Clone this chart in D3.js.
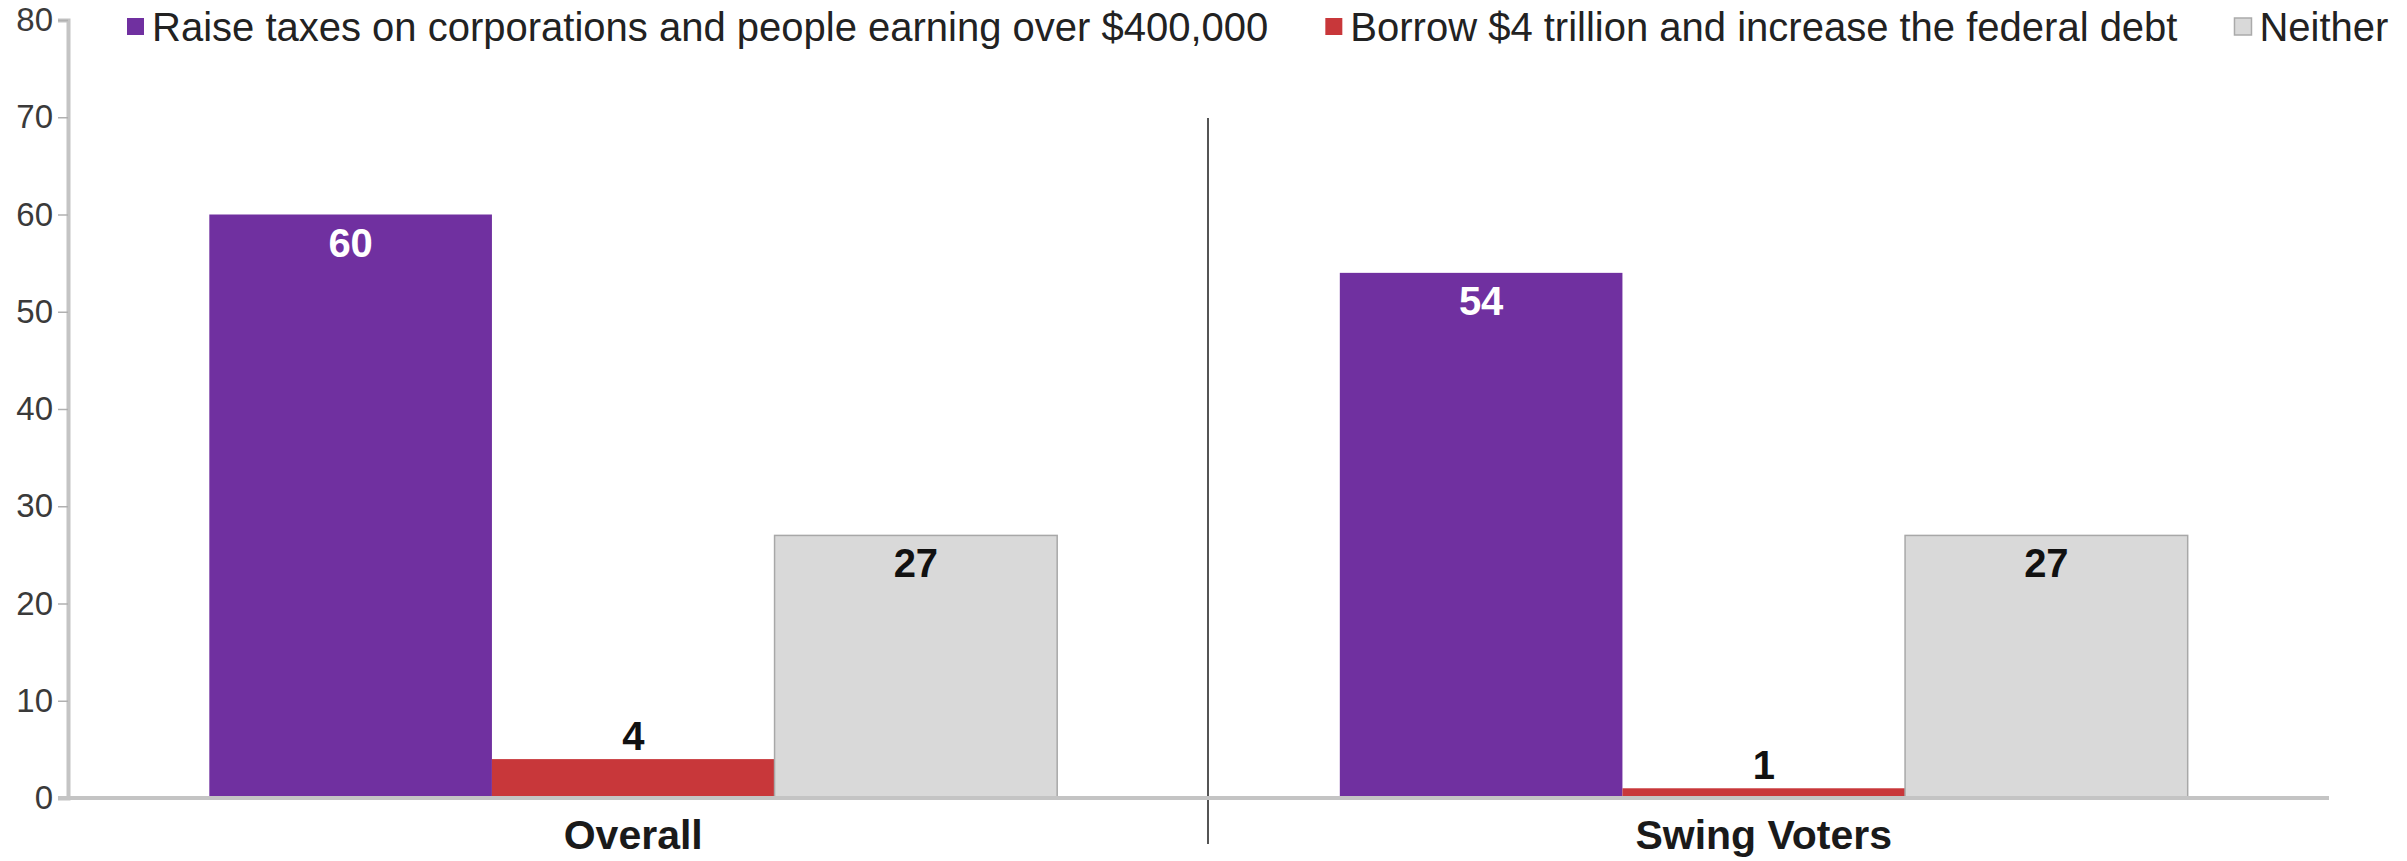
<!DOCTYPE html>
<html>
<head>
<meta charset="utf-8">
<script src="https://cdn.jsdelivr.net/npm/d3@7"></script>
<style>
  html, body { margin: 0; padding: 0; background: #fff; }
  svg { display: block; font-family: "Liberation Sans", Arial, sans-serif; }
</style>
</head>
<body>
<svg id="chart" width="2407" height="861"></svg>
<script>
// Poll groups and answer options
const groups = ["Overall", "Swing Voters"];
const series = [
  "Raise taxes on corporations and people earning over $400,000",
  "Borrow $4 trillion and increase the federal debt",
  "Neither"
];
// Percent choosing each option, per group (same order as series)
const overallValues = [60, 4, 27];
const swingValues = [54, 1, 27];
const yTicks = [0, 10, 20, 30, 40, 50, 60, 70, 80];

const seriesColors = ["#7030A0", "#C8373A", "#D9D9D9"];
const labelColors = ["#ffffff", "#111111", "#111111"];

const rows = [
  { group: groups[0], values: overallValues },
  { group: groups[1], values: swingValues }
];

const svg = d3.select("#chart");
const plotLeft = 68, plotRight = 2329, plotTop = 20, plotBottom = 798;

const x = d3.scaleBand().domain(groups).range([plotLeft, plotRight])
  .paddingInner(0.25).paddingOuter(0.125);
const xs = d3.scaleBand().domain(series).range([0, x.bandwidth()]).padding(0);
const y = d3.scaleLinear().domain([0, 80]).range([plotBottom, plotTop]);

// Y axis
const yAxis = svg.append("g")
  .attr("transform", `translate(${plotLeft},0)`)
  .call(d3.axisLeft(y).tickValues(yTicks).tickSize(10).tickPadding(5));
yAxis.select(".domain").attr("stroke", "#c4c4c4").attr("stroke-width", 4);
yAxis.selectAll(".tick line").attr("stroke", "#b0b0b0").attr("stroke-width", 1.5);
yAxis.selectAll(".tick text")
  .attr("fill", "#3a3a3a")
  .style("font-size", "33px")
  .style("font-family", "'Liberation Sans', Arial, sans-serif");

// Separator between groups
const sepX = plotLeft + (plotRight - plotLeft) * 0.5042;
svg.append("line")
  .attr("x1", sepX).attr("x2", sepX)
  .attr("y1", 118).attr("y2", 844)
  .attr("stroke", "#555").attr("stroke-width", 2);

// Bars
const groupSel = svg.selectAll("g.group").data(rows).join("g")
  .attr("class", "group")
  .attr("transform", d => `translate(${x(d.group)},0)`);

groupSel.selectAll("rect").data(d => d.values.map((v, i) => ({ s: series[i], v, i })))
  .join("rect")
  .attr("x", d => xs(d.s))
  .attr("y", d => y(d.v))
  .attr("width", xs.bandwidth())
  .attr("height", d => y(0) - y(d.v))
  .attr("fill", d => seriesColors[d.i])
  .attr("stroke", d => d.i === 2 ? "#a8a8a8" : "none")
  .attr("stroke-width", 1.5);

// Value labels: inside near the top for tall bars, above for short ones
groupSel.selectAll("text.val").data(d => d.values.map((v, i) => ({ s: series[i], v, i })))
  .join("text")
  .attr("class", "val")
  .attr("x", d => xs(d.s) + xs.bandwidth() / 2)
  .attr("y", d => d.v > 10 ? y(d.v) + 42 : y(d.v) - 9)
  .attr("text-anchor", "middle")
  .attr("fill", d => d.v > 10 ? labelColors[d.i] : "#111")
  .style("font-size", "40px")
  .style("font-weight", "bold")
  .text(d => d.v);

// X baseline
svg.append("line")
  .attr("x1", plotLeft - 10).attr("x2", plotRight)
  .attr("y1", plotBottom).attr("y2", plotBottom)
  .attr("stroke", "#c4c4c4").attr("stroke-width", 4);

// Group labels
svg.selectAll("text.cat").data(groups).join("text")
  .attr("class", "cat")
  .attr("x", d => x(d) + x.bandwidth() / 2)
  .attr("y", 849)
  .attr("text-anchor", "middle")
  .attr("fill", "#1a1a1a")
  .style("font-size", "41px")
  .style("font-weight", "bold")
  .text(d => d);

// Legend
const legend = svg.append("g").attr("class", "legend");
let lx = 127;
series.forEach((name, i) => {
  legend.append("rect")
    .attr("x", lx).attr("y", 18)
    .attr("width", 17).attr("height", 17)
    .attr("fill", seriesColors[i])
    .attr("stroke", i === 2 ? "#aaa" : "none")
    .attr("stroke-width", 1.5);
  const t = legend.append("text")
    .attr("x", lx + 25).attr("y", 41)
    .attr("fill", "#222")
    .style("font-size", "40px")
    .text(name);
  const w = t.node().getComputedTextLength();
  lx = lx + 25 + w + 57;
});
</script>
</body>
</html>
